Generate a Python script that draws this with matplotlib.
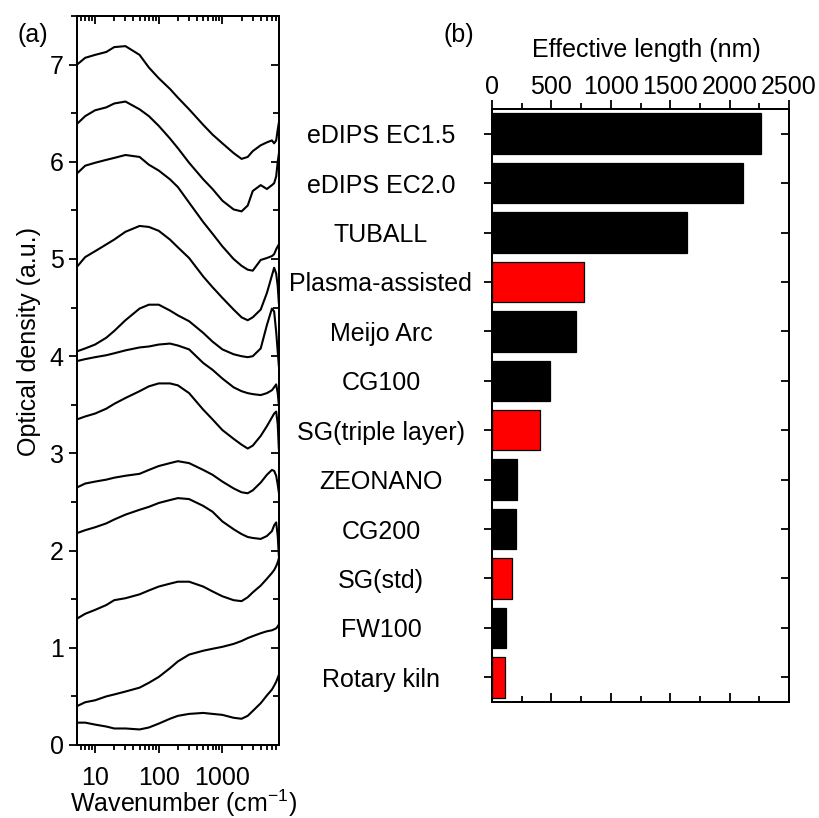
import matplotlib
matplotlib.use('Agg')
import matplotlib.pyplot as plt
import numpy as np
from matplotlib.ticker import MultipleLocator, LogLocator, NullFormatter

plt.rcParams['font.family'] = ['Liberation Sans', 'DejaVu Sans']
plt.rcParams['mathtext.fontset'] = 'custom'
plt.rcParams['mathtext.rm'] = 'Liberation Sans'
plt.rcParams['mathtext.it'] = 'Liberation Sans:italic'
plt.rcParams['font.size'] = 18

# ---------------- data: panel (a) ----------------
wavenumber = [5.2, 7, 10, 15, 20, 30, 50, 70, 100, 150, 200, 300, 500, 700,
              1000, 1500, 2000, 2500, 3000, 4000, 5000, 6000, 6500, 7000, 7400, 7700]

od_1 = [7.00, 7.07, 7.10, 7.13, 7.18, 7.19, 7.10, 6.97, 6.86, 6.75, 6.66, 6.54, 6.38, 6.28,
        6.19, 6.09, 6.03, 6.05, 6.11, 6.17, 6.20, 6.22, 6.19, 6.22, 6.33, 6.40]
od_2 = [6.39, 6.47, 6.53, 6.56, 6.60, 6.62, 6.54, 6.47, 6.37, 6.24, 6.14, 5.99, 5.82, 5.72,
        5.60, 5.51, 5.49, 5.55, 5.70, 5.76, 5.72, 5.76, 5.78, 5.85, 6.00, 6.08]
od_3 = [5.88, 5.96, 5.99, 6.02, 6.04, 6.07, 6.05, 5.97, 5.91, 5.82, 5.74, 5.58, 5.38, 5.26,
        5.13, 5.00, 4.93, 4.89, 4.88, 4.99, 5.01, 5.03, 5.05, 5.10, 5.13, 5.15]
od_4 = [4.92, 5.02, 5.08, 5.15, 5.20, 5.28, 5.34, 5.33, 5.29, 5.20, 5.12, 5.01, 4.82, 4.71,
        4.60, 4.48, 4.40, 4.37, 4.40, 4.48, 4.65, 4.83, 4.91, 4.85, 4.72, 4.55]
od_5 = [4.05, 4.08, 4.12, 4.19, 4.26, 4.37, 4.49, 4.53, 4.53, 4.47, 4.42, 4.36, 4.24, 4.15,
        4.07, 4.02, 4.00, 3.99, 4.00, 4.08, 4.32, 4.49, 4.46, 4.25, 4.05, 3.90]
od_6 = [3.95, 3.97, 3.99, 4.01, 4.03, 4.06, 4.09, 4.10, 4.12, 4.13, 4.11, 4.07, 3.93, 3.86,
        3.77, 3.68, 3.64, 3.62, 3.61, 3.60, 3.62, 3.65, 3.68, 3.71, 3.62, 3.50]
od_7 = [3.35, 3.38, 3.41, 3.46, 3.51, 3.57, 3.64, 3.69, 3.72, 3.72, 3.70, 3.62, 3.45, 3.35,
        3.24, 3.15, 3.09, 3.05, 3.08, 3.18, 3.28, 3.37, 3.41, 3.43, 3.30, 3.05]
od_8 = [2.65, 2.69, 2.71, 2.73, 2.75, 2.77, 2.79, 2.83, 2.87, 2.90, 2.92, 2.90, 2.83, 2.78,
        2.71, 2.64, 2.60, 2.59, 2.62, 2.70, 2.78, 2.83, 2.82, 2.77, 2.68, 2.60]
od_9 = [2.18, 2.21, 2.24, 2.28, 2.32, 2.37, 2.42, 2.45, 2.49, 2.52, 2.54, 2.53, 2.46, 2.40,
        2.30, 2.22, 2.17, 2.14, 2.13, 2.12, 2.15, 2.20, 2.26, 2.29, 2.15, 1.95]
od_10 = [1.30, 1.35, 1.39, 1.44, 1.49, 1.51, 1.55, 1.59, 1.63, 1.66, 1.68, 1.68, 1.63, 1.58,
         1.53, 1.49, 1.48, 1.52, 1.57, 1.64, 1.71, 1.77, 1.80, 1.84, 1.88, 1.92]
od_11 = [0.40, 0.44, 0.46, 0.50, 0.52, 0.55, 0.59, 0.64, 0.70, 0.79, 0.86, 0.93, 0.97, 0.99,
         1.01, 1.04, 1.07, 1.10, 1.12, 1.15, 1.17, 1.18, 1.19, 1.20, 1.22, 1.24]
od_12 = [0.23, 0.23, 0.21, 0.19, 0.17, 0.17, 0.16, 0.18, 0.22, 0.27, 0.30, 0.32, 0.33, 0.32,
         0.31, 0.28, 0.27, 0.30, 0.35, 0.43, 0.51, 0.57, 0.61, 0.65, 0.69, 0.72]

spectra = [od_1, od_2, od_3, od_4, od_5, od_6, od_7, od_8, od_9, od_10, od_11, od_12]

# ---------------- data: panel (b) ----------------
samples = ['eDIPS EC1.5', 'eDIPS EC2.0', 'TUBALL', 'Plasma-assisted', 'Meijo Arc',
           'CG100', 'SG(triple layer)', 'ZEONANO', 'CG200', 'SG(std)', 'FW100', 'Rotary kiln']
effective_length = [2263, 2110, 1645, 772, 708, 488, 405, 211, 205, 168, 118, 110]
highlighted = [False, False, False, True, False, False, True, False, False, True, False, True]

# ---------------- figure ----------------
W, H = 819, 818
fig = plt.figure(figsize=(W / 100, H / 100), dpi=100)

def frac(left, top, right, bottom):
    return [left / W, 1 - bottom / H, (right - left) / W, (bottom - top) / H]

LW_SPINE = 1.3

# Panel (a)
axA = fig.add_axes(frac(77, 16, 279, 745))
axAt = axA.twiny()
axAr = axA.twinx()

for s in spectra:
    axA.plot(wavenumber, s, color='black', lw=1.5, solid_joinstyle='round')
axA.set_xscale('log')
xlimA = (5.2, 7750)
axA.set_xlim(*xlimA)
axA.set_ylim(0, 7.5)
axA.xaxis.tick_bottom()
axA.yaxis.tick_left()
axA.set_xticks([10, 100, 1000], ['10', '100', '1000'])
axA.xaxis.set_minor_locator(LogLocator(base=10, subs=np.arange(2, 10), numticks=20))
axA.xaxis.set_minor_formatter(NullFormatter())
axA.yaxis.set_major_locator(MultipleLocator(1))
axA.yaxis.set_minor_locator(MultipleLocator(0.5))
axA.tick_params(which='both', direction='out', width=LW_SPINE)
axA.tick_params(axis='x', which='major', length=6, pad=9)
axA.tick_params(axis='x', which='minor', length=3.5)
axA.tick_params(axis='y', which='major', length=5.5, pad=4)
axA.tick_params(axis='y', which='minor', length=4.5)

axAt.set_xscale('log')
axAt.set_xlim(*xlimA)
axAt.xaxis.tick_top()
axAt.set_xticks([10, 100, 1000])
axAt.xaxis.set_minor_locator(LogLocator(base=10, subs=np.arange(2, 10), numticks=20))
axAt.xaxis.set_minor_formatter(NullFormatter())
axAt.tick_params(which='both', direction='in', width=LW_SPINE, labeltop=False, labelbottom=False)
axAt.tick_params(which='major', length=6)
axAt.tick_params(which='minor', length=3.5)

axAr.set_ylim(0, 7.5)
axAr.yaxis.tick_right()
axAr.yaxis.set_major_locator(MultipleLocator(1))
axAr.yaxis.set_minor_locator(MultipleLocator(0.5))
axAr.tick_params(which='both', direction='in', width=LW_SPINE, labelright=False, labelleft=False)
axAr.tick_params(which='major', length=5.5)
axAr.tick_params(which='minor', length=4.5)
for a in (axA, axAt, axAr):
    for sp in a.spines.values():
        sp.set_linewidth(LW_SPINE)

# Panel (b)
axB = fig.add_axes(frac(492, 109, 789, 702))
axBb = axB.twiny()
axBr = axB.twinx()

ypos = np.arange(len(samples))
bar_colors = ['#ff0000' if h else 'black' for h in highlighted]
axB.barh(ypos, effective_length, height=0.82, color=bar_colors, edgecolor='black', linewidth=0.9)
axB.set_xlim(0, 2500)
axB.set_ylim(len(samples) - 0.5, -0.5)
axB.xaxis.tick_top()
axB.yaxis.tick_left()
axB.set_xticks(np.arange(0, 2501, 500))
axB.xaxis.set_minor_locator(MultipleLocator(250))
axB.set_yticks(ypos, samples)
for lab in axB.get_yticklabels():
    lab.set_horizontalalignment('center')
axB.tick_params(which='both', direction='out', width=LW_SPINE)
axB.tick_params(axis='x', which='major', length=6.5, pad=1, labeltop=True, labelbottom=False)
axB.tick_params(axis='x', which='minor', length=4)
axB.tick_params(axis='y', which='major', length=5.5, pad=74.5)

axBb.xaxis.tick_bottom()
axBb.set_xlim(0, 2500)
axBb.set_xticks(np.arange(0, 2501, 500))
axBb.xaxis.set_minor_locator(MultipleLocator(250))
axBb.tick_params(which='both', direction='in', width=LW_SPINE, labelbottom=False, labeltop=False)
axBb.tick_params(which='major', length=6.5)
axBb.tick_params(which='minor', length=4)

axBr.set_ylim(len(samples) - 0.5, -0.5)
axBr.yaxis.tick_right()
axBr.set_yticks(ypos)
axBr.tick_params(which='both', direction='in', width=LW_SPINE, labelright=False, labelleft=False, length=5.5)
for a in (axB, axBb, axBr):
    for sp in a.spines.values():
        sp.set_linewidth(LW_SPINE)

# Labels
fig.text(33 / W, 1 - 35 / H, '(a)', ha='center', va='center')
fig.text(459 / W, 1 - 35 / H, '(b)', ha='center', va='center')
fig.text(646 / W, 1 - 57 / H, 'Effective length (nm)', ha='center', va='baseline')
fig.text(184 / W, 1 - 812 / H, 'Wavenumber (cm$^{\\mathregular{-1}}$)', ha='center', va='baseline')
fig.text(29 / W, 1 - 342 / H, 'Optical density (a.u.)', ha='center', va='center', rotation=90)

fig.savefig('out.png', dpi=100)
